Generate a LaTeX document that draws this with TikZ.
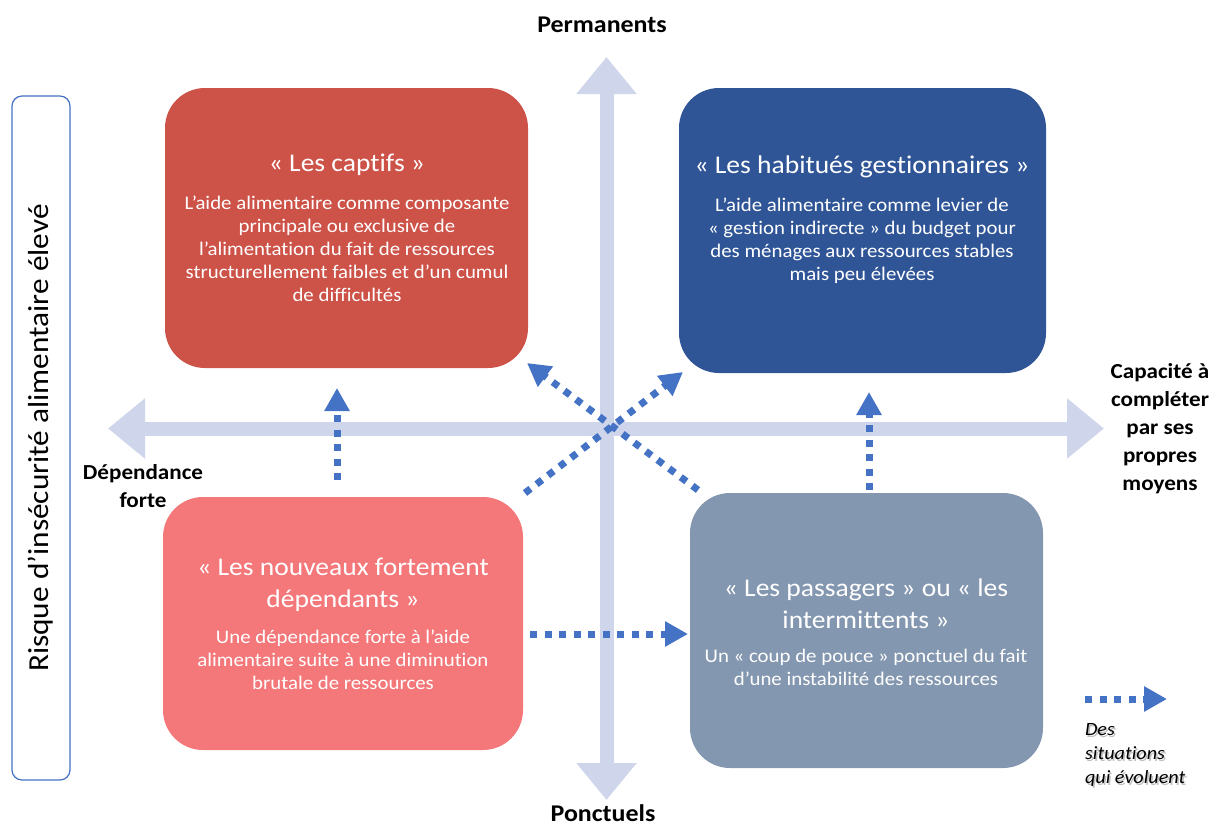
\documentclass[tikz,border=0pt]{standalone}
\usepackage{fontspec}
\setmainfont{Carlito}[FakeStretch=1.08, Ligatures=NoCommon]
\usetikzlibrary{arrows.meta}
\definecolor{redbox}{HTML}{CD5248}
\definecolor{bluebox}{HTML}{2F5597}
\definecolor{pinkbox}{HTML}{F4777A}
\definecolor{greybox}{HTML}{8497B0}
\definecolor{axiscol}{HTML}{CFD5EA}
\definecolor{dotcol}{HTML}{4472C4}
\tikzset{
  quad/.style={rounded corners=40pt, inner sep=0pt, draw=none},
  axisline/.style={draw=axiscol, line width=14pt,
    arrows={Triangle[length=37pt,width=58pt]-Triangle[length=37pt,width=58pt]}},
  dotarrow/.style={draw=dotcol, line width=7pt, dash pattern=on 7pt off 7.5pt,
    arrows={-Triangle[length=23pt,width=24pt]}},
  title/.style={text=white, align=center, font=\fontsize{25.5}{32}\selectfont},
  body/.style={text=white, align=center, font=\fontsize{19.3}{23}\selectfont},
  axislabel/.style={align=center, font=\bfseries\fontsize{21.4}{28}\selectfont},
  bigaxislabel/.style={align=center, font=\bfseries\fontsize{24}{28}\selectfont},
  legendtext/.style={anchor=north west, align=left, font=\itshape\fontsize{18.7}{24}\selectfont},
}
\begin{document}
\begin{tikzpicture}[x=1pt,y=-1pt]
\useasboundingbox (0,0) rectangle (1219,825);

% axes
\coordinate (vtop) at (606.5,57);
\coordinate (vbot) at (606.5,800);
\coordinate (hleft) at (108,428.5);
\coordinate (hright) at (1104,428.5);
\draw[axisline] (vbot) -- (vtop);
\draw[axisline] (hleft) -- (hright);

% quadrant boxes
\node[quad, fill=redbox, minimum width=363pt, minimum height=280pt] (captifs) at (346.5,228) {};
\node[quad, fill=bluebox, minimum width=367pt, minimum height=285pt] (habitues) at (862.5,230.5) {};
\node[quad, fill=pinkbox, minimum width=360pt, minimum height=253pt] (nouveaux) at (343,623.5) {};
\node[quad, fill=greybox, minimum width=353pt, minimum height=275pt] (passagers) at (866.5,630.5) {};

% texts in boxes
\node[title] (t1) at (347,165) {« Les captifs »};
\node[body] (b1) at (347,248.5) {L’aide alimentaire comme composante\\principale ou exclusive de\\l’alimentation du fait de ressources\\structurellement faibles et d’un cumul\\de difficultés};
\node[title] (t2) at (862,167) {« Les habitués gestionnaires »};
\node[body] (b2) at (862,240.5) {L’aide alimentaire comme levier de\\« gestion indirecte » du budget pour\\des ménages aux ressources stables\\mais peu élevées};
\node[title] (t3) at (343,585) {« Les nouveaux fortement\\dépendants »};
\node[body] (b3) at (343,660) {Une dépendance forte à l’aide\\alimentaire suite à une diminution\\brutale de ressources};
\node[title] (t4) at (866,603.5) {« Les passagers » ou « les\\intermittents »};
\node[body] (b4) at (866,667) {Un « coup de pouce » ponctuel du fait\\d’une instabilité des ressources};

% axis labels
\node[bigaxislabel] (perm) at (602,25) {Permanents};
\node[bigaxislabel] (ponct) at (603,813) {Ponctuels};
\node[axislabel] (dep) at (143,486) {Dépendance\\forte};
\node[axislabel] (cap) at (1160,429) {Capacité à\\compléter\\par ses\\propres\\moyens};

% left box
\node[draw=dotcol, line width=1.2pt, rounded corners=10pt, minimum width=58pt, minimum height=684pt, inner sep=0pt] (risk) at (41,438) {};
\node[rotate=90, font=\fontsize{29}{34}\selectfont] (risktext) at (risk.center) {Risque d’insécurité alimentaire élevé};

% evolving arrows
\coordinate (a1s) at (337,480); \coordinate (a1e) at (337,388);
\coordinate (a2s) at (869,490); \coordinate (a2e) at (869,392);
\coordinate (a3s) at (525,493); \coordinate (a3e) at (683,372);
\coordinate (a4s) at (698,490); \coordinate (a4e) at (527,363);
\coordinate (a5s) at (530,634); \coordinate (a5e) at (688,634);
\coordinate (a6s) at (1085,699); \coordinate (a6e) at (1167,699);
\draw[dotarrow] (a1s) -- (a1e);
\draw[dotarrow] (a2s) -- (a2e);
\draw[dotarrow] (a3s) -- (a3e);
\draw[dotarrow] (a4s) -- (a4e);
\draw[dotarrow] (a5s) -- (a5e);
\draw[dotarrow] (a6s) -- (a6e);

% legend
\node[legendtext, text=black!25] (legshadow) at (1083,721.5) {Des\\situations\\qui évoluent};
\node[legendtext] (legend) at (1081.5,720) {Des\\situations\\qui évoluent};
\end{tikzpicture}
\end{document}
